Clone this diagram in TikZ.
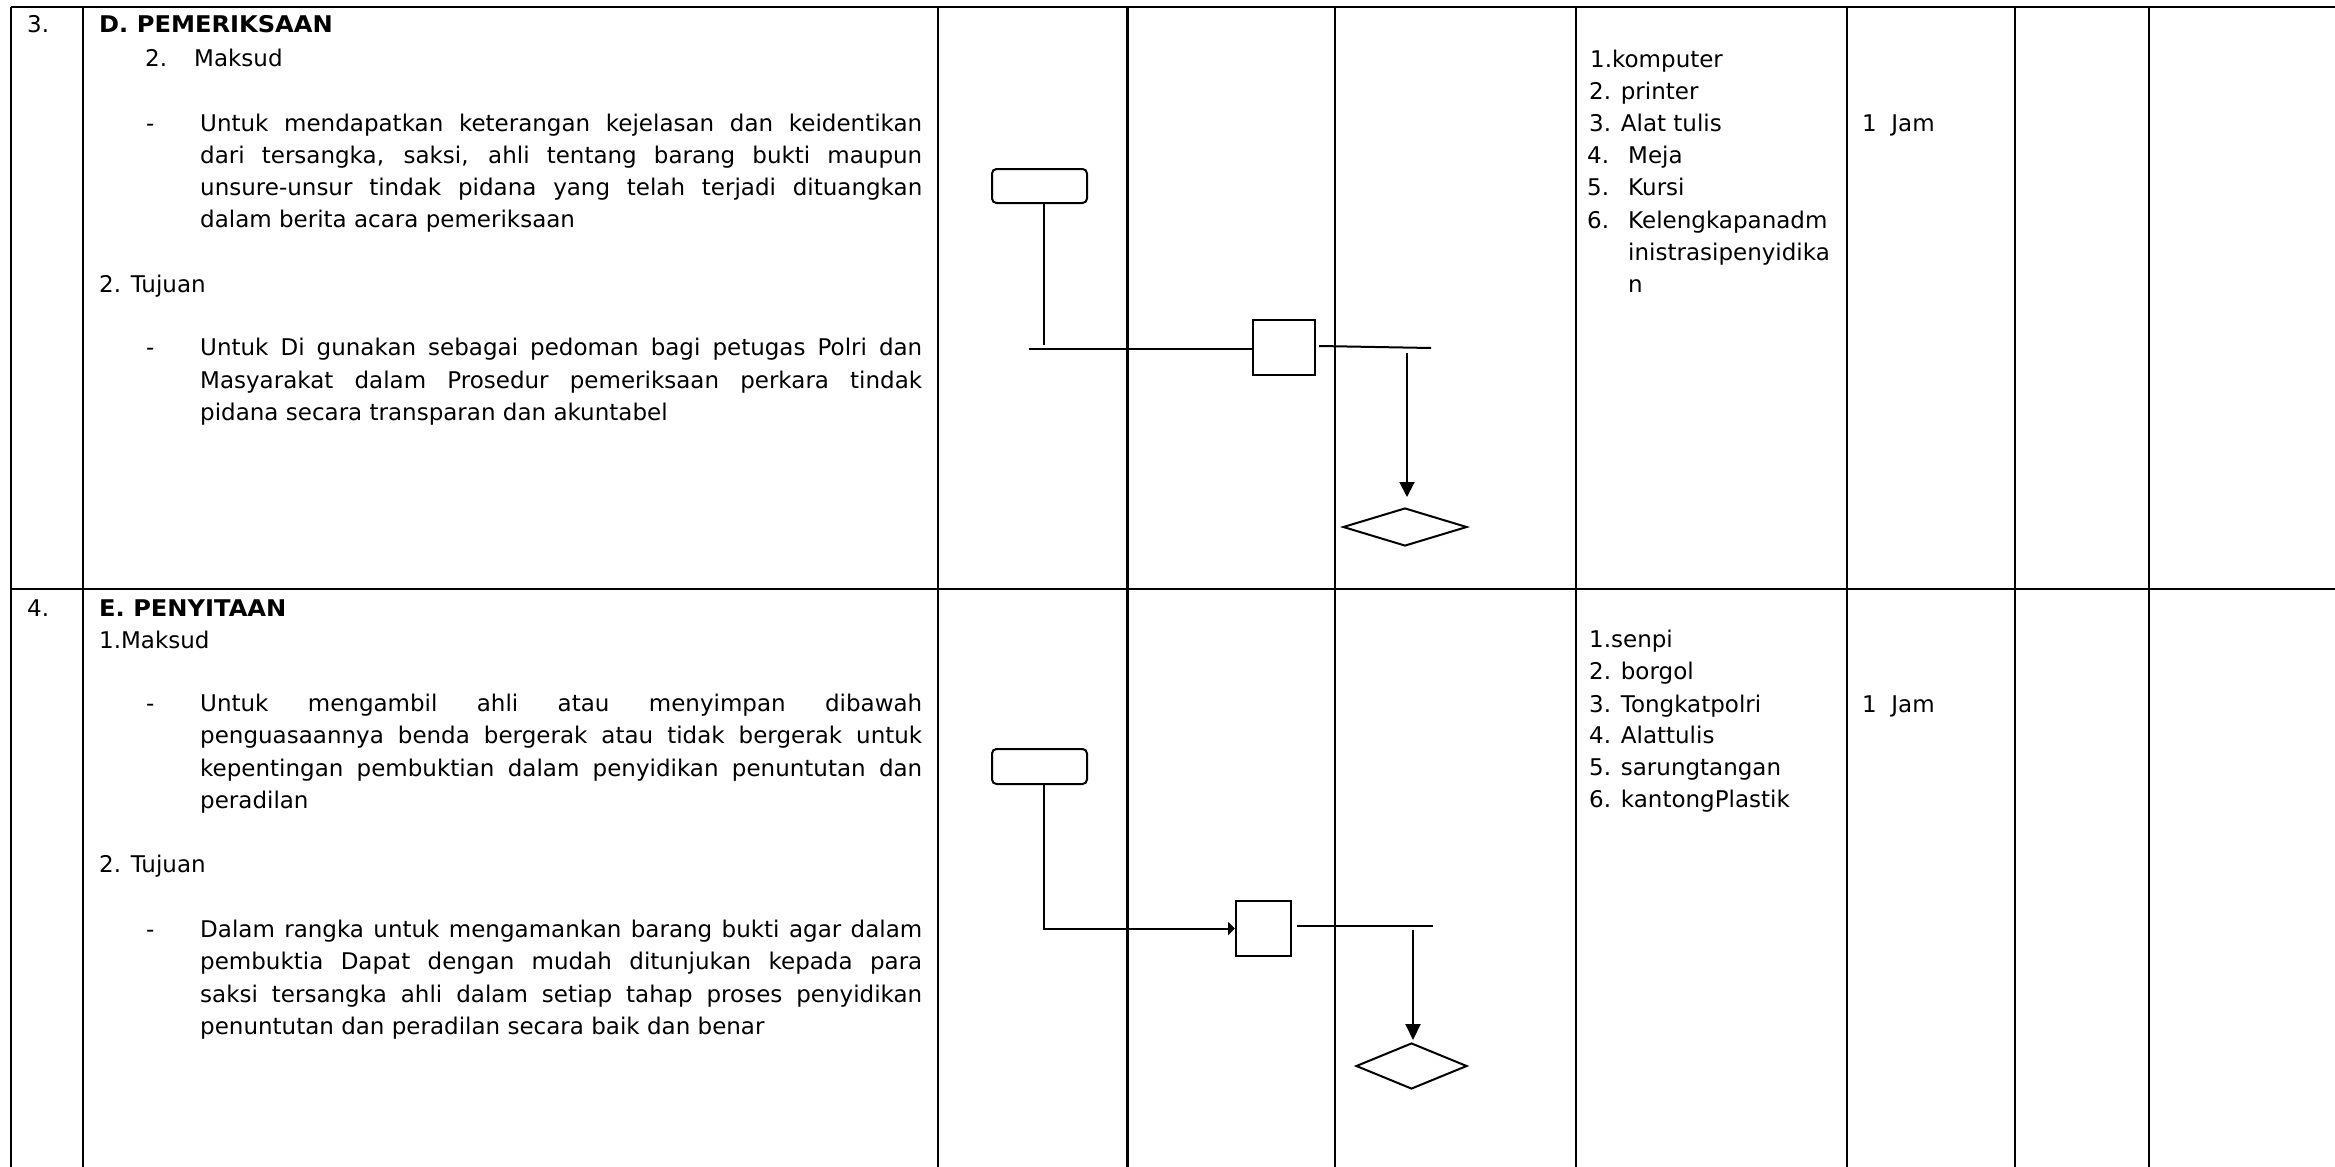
\documentclass[tikz,border=0pt]{standalone}
\usepackage{fontspec}
\setmainfont{DejaVu Sans}
\usetikzlibrary{shapes.geometric,arrows.meta}
\newcommand{\myjust}[1]{\makebox[722pt][s]{#1}}
\begin{document}
\begin{tikzpicture}[x=1pt,y=-1pt,
  txt/.style={anchor=base west,inner sep=0pt,font=\fontsize{23}{30}\selectfont},
  btxt/.style={anchor=base west,inner sep=0pt,font=\fontsize{23}{30}\selectfont\bfseries\addfontfeature{FakeStretch=1.05}},
  gridline/.style={line width=2.2pt},
  flow/.style={line width=2pt},
  startbox/.style={draw,line width=2pt,rounded corners=4.5pt,minimum width=95pt,minimum height=34pt,inner sep=0pt},
  procbox/.style={draw,line width=2pt,inner sep=0pt},
  decbox/.style={draw,diamond,line width=2pt,inner sep=0pt}]
\fill[white] (0,0) rectangle (2335,1167);
\useasboundingbox (0,0) rectangle (2335,1167);
% table
\draw[gridline] (11,7) -- (2335,7);
\draw[gridline] (11,589) -- (2335,589);
\foreach \xx in {11,83,938,1127.5,1335,1576,1847,2015,2149}
  \draw[gridline] (\xx,7) -- (\xx,1167);
% ---------- row 3 ----------
\node[txt] (n3) at (27,32) {3.};
\node[btxt] (hD) at (99,32) {D. PEMERIKSAAN};
\node[txt] (m2a) at (145,66) {2.};
\node[txt] (m2b) at (194,66) {Maksud};
\node[txt] (d1) at (146,131) {-};
\node[txt] (p1a) at (200,131) {\myjust{Untuk mendapatkan keterangan kejelasan dan keidentikan}};
\node[txt] (p1b) at (200,163) {\myjust{dari tersangka, saksi, ahli tentang barang bukti maupun}};
\node[txt] (p1c) at (200,195) {\myjust{unsure-unsur tindak pidana yang telah terjadi dituangkan}};
\node[txt] (p1d) at (200,227) {dalam berita acara pemeriksaan};
\node[txt] (t2) at (99,292) {2. Tujuan};
\node[txt] (d2) at (146,355) {-};
\node[txt] (p2a) at (200,355) {\myjust{Untuk Di gunakan sebagai pedoman bagi petugas Polri dan}};
\node[txt] (p2b) at (200,388) {\myjust{Masyarakat dalam Prosedur pemeriksaan perkara tindak}};
\node[txt] (p2c) at (200,420) {pidana secara transparan dan akuntabel};
% list row 3
\node[txt] (l1) at (1590,67) {1.komputer};
\node[txt] (l2) at (1589,99) {2. printer};
\node[txt] (l3) at (1589,131) {3. Alat tulis};
\node[txt] (l4a) at (1587,163) {4.};
\node[txt] (l4b) at (1628,163) {Meja};
\node[txt] (l5a) at (1587,195) {5.};
\node[txt] (l5b) at (1628,195) {Kursi};
\node[txt] (l6a) at (1587,228) {6.};
\node[txt] (l6b) at (1628,228) {Kelengkapanadm};
\node[txt] (l6c) at (1628,260) {inistrasipenyidika};
\node[txt] (l6d) at (1628,292) {n};
\node[txt] (j1) at (1862,131) {1\space\space Jam};
% flow row 3
\node[startbox] (r1) at (1039.5,186) {};
\node[procbox,minimum width=62pt,minimum height=55pt] (s1) at (1284,347.5) {};
\node[decbox,minimum width=124pt,minimum height=38pt] (dm1) at (1405,527) {};
\coordinate (a1) at (1044,345);
\coordinate (a2) at (1029,349);
\coordinate (a3) at (1431,348);
\coordinate (a4) at (1407,353);
\draw[flow] ([xshift=4.5pt]r1.south) -- (a1);
\draw[flow] (a2) -- (a2 -| s1.west);
\draw[flow] ([xshift=3pt,yshift=1.5pt]s1.east) -- (a3);
\draw[flow,-{Triangle[length=15pt,width=15pt]}] (a4) -- ([xshift=2pt,yshift=10pt]dm1.north);
% ---------- row 4 ----------
\node[txt] (n4) at (27,616) {4.};
\node[btxt] (hE) at (99,616) {E. PENYITAAN};
\node[txt] (m1) at (99,648) {1.Maksud};
\node[txt] (d3) at (146,711) {-};
\node[txt] (q1a) at (200,711) {\myjust{Untuk mengambil ahli atau menyimpan dibawah}};
\node[txt] (q1b) at (200,743.5) {\myjust{penguasaannya benda bergerak atau tidak bergerak untuk}};
\node[txt] (q1c) at (200,776) {\myjust{kepentingan pembuktian dalam penyidikan penuntutan dan}};
\node[txt] (q1d) at (200,808.5) {peradilan};
\node[txt] (t4) at (99,872) {2. Tujuan};
\node[txt] (d4) at (146,937) {-};
\node[txt] (q2a) at (200,937) {\myjust{Dalam rangka untuk mengamankan barang bukti agar dalam}};
\node[txt] (q2b) at (200,969.5) {\myjust{pembuktia Dapat dengan mudah ditunjukan kepada para}};
\node[txt] (q2c) at (200,1002) {\myjust{saksi tersangka ahli dalam setiap tahap proses penyidikan}};
\node[txt] (q2d) at (200,1034.5) {penuntutan dan peradilan secara baik dan benar};
% list row 4
\node[txt] (k1) at (1589,647) {1.senpi};
\node[txt] (k2) at (1589,679) {2. borgol};
\node[txt] (k3) at (1589,712) {3. Tongkatpolri};
\node[txt] (k4) at (1589,743) {4. Alattulis};
\node[txt] (k5) at (1589,775) {5. sarungtangan};
\node[txt] (k6) at (1589,807) {6. kantongPlastik};
\node[txt] (j2) at (1862,712) {1\space\space Jam};
% flow row 4
\node[startbox,minimum height=35pt] (r2) at (1039.5,766.5) {};
\node[procbox,minimum width=55pt,minimum height=55pt] (s2) at (1263.5,928.5) {};
\node[decbox,minimum width=111pt,minimum height=46pt] (dm2) at (1411.5,1066) {};
\coordinate (b3) at (1433,926);
\coordinate (b4) at (1413,930);
\draw[flow,-{Triangle[length=7pt,width=13pt]}] ([xshift=4.5pt]r2.south) |- (s2.west);
\draw[flow] ([xshift=5pt,yshift=2.5pt]s2.east) -- (b3);
\draw[flow,-{Triangle[length=16pt,width=15pt]}] (b4) -- ([xshift=1.5pt,yshift=2pt]dm2.north);
\end{tikzpicture}
\end{document}
